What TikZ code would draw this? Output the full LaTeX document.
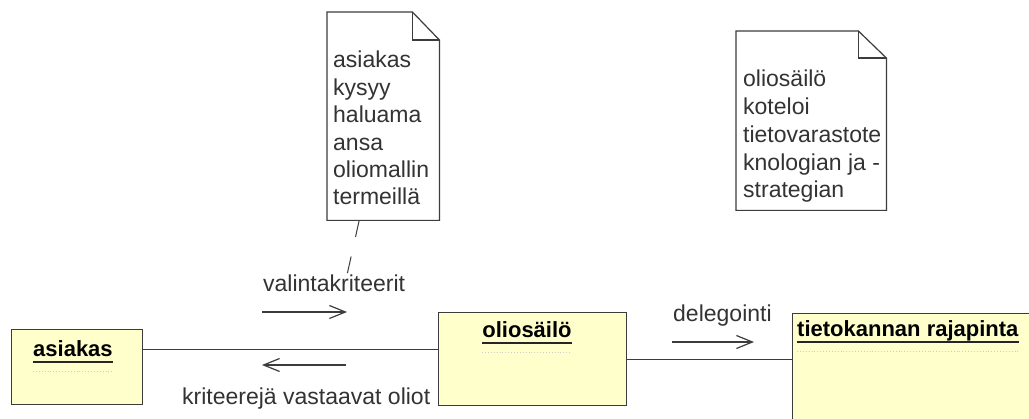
\documentclass[tikz,border=0pt]{standalone}
\usepackage{fontspec}
\setmainfont{Liberation Sans}
\usetikzlibrary{arrows.meta}
\definecolor{boxfill}{RGB}{255,255,204}
\definecolor{ink}{RGB}{51,51,51}
\definecolor{edge}{RGB}{60,60,60}

\begin{document}
\begin{tikzpicture}[x=1pt,y=-1pt,
  objbox/.style={draw=edge, line width=1.4pt, fill=boxfill, rectangle, inner sep=0pt, anchor=north west},
  title/.style={font=\fontsize{22}{27}\selectfont\bfseries, text=black, inner sep=0pt, anchor=base west},
  ul/.style={draw=black!85, line width=1.8pt},
  sep/.style={draw=black!20, line width=0.9pt, dotted},
  lbl/.style={font=\fontsize{23}{27}\selectfont, text=ink, inner sep=0pt, anchor=base west},
  notebody/.style={inner sep=0pt, anchor=north west},
  noteline/.style={draw=edge, line width=1.2pt},
  assoc/.style={draw=edge, line width=1.3pt},
  anchorline/.style={draw=edge, line width=1pt, dash pattern=on 17pt off 20pt},
  msg/.style={draw=edge, line width=1.2pt, -{Straight Barb[length=16pt,width=13pt,line width=1.2pt]}},
]
\useasboundingbox (0,0) rectangle (1029,419);
\fill[white] (0,0) rectangle (1029,419);
\clip (0,0) rectangle (1029,419);

% objects
\node[objbox, minimum width=131pt, minimum height=75pt] (asiakas) at (11,329) {};
\node[objbox, minimum width=188pt, minimum height=93pt] (olio) at (438,312) {};
\node[objbox, minimum width=260pt, minimum height=130pt] (tieto) at (792,313) {};

% object names, underlined
\node[title] (asiakasT) at (33,357) {asiakas};
\node[title, anchor=base] (olioT) at (527,338) {oliosäilö};
\node[title] (tietoT) at (797,337) {tietokannan rajapinta};
\foreach \t in {asiakasT,olioT,tietoT}{
  \draw[ul] ([yshift=-5pt]\t.base west) -- ([yshift=-5pt]\t.base east);
  \draw[sep] ([yshift=-14pt]\t.base west) -- ([yshift=-14pt]\t.base east);
}

% links
\draw[assoc] ([yshift=17.5pt]asiakas.east) -- ([yshift=9.5pt]olio.west);
\draw[assoc] (olio.east) -- (olio.east -| tieto.west);

% messages
\node[lbl] (valL) at (263,292) {valintakriteerit};
\node[lbl] (kritL) at (182,405) {kriteerejä vastaavat oliot};
\node[lbl] (delL) at (673,322) {delegointi};
\coordinate (m1a) at (262,312);
\coordinate (m1b) at (347,312);
\coordinate (m2a) at (346,365);
\coordinate (m2b) at (262,365);
\coordinate (m3a) at (672,342);
\coordinate (m3b) at (754,342);
\draw[msg] (m1a) -- (m1b);
\draw[msg] (m2a) -- (m2b);
\draw[msg] (m3a) -- (m3b);

% notes
\node[notebody, minimum width=112pt, minimum height=208pt] (note1) at (327,12) {};
\draw[noteline, fill=white] (note1.north west) -- ([xshift=-27pt]note1.north east)
  -- ([yshift=-28pt]note1.north east) -- (note1.south east) -- (note1.south west) -- cycle;
\draw[noteline] ([xshift=-27pt]note1.north east) |- ([yshift=-28pt]note1.north east);
\node[lbl] (note1T) at (333,68) {\vtop{\baselineskip=27.4pt
  \hbox{asiakas}\hbox{kysyy}\hbox{haluama}\hbox{ansa}\hbox{oliomallin}\hbox{termeillä}}};

\node[notebody, minimum width=150pt, minimum height=179pt] (note2) at (736,31) {};
\draw[noteline, fill=white] (note2.north west) -- ([xshift=-28pt]note2.north east)
  -- ([yshift=-27pt]note2.north east) -- (note2.south east) -- (note2.south west) -- cycle;
\draw[noteline] ([xshift=-28pt]note2.north east) |- ([yshift=-27pt]note2.north east);
\node[lbl] (note2T) at (743,87) {\vtop{\baselineskip=27.75pt
  \hbox{oliosäilö}\hbox{koteloi}\hbox{tietovarastote}\hbox{knologian ja -}\hbox{strategian}}};

% note anchor
\coordinate (noteEnd) at (347,275);
\draw[anchorline] ([xshift=-24pt]note1.south) -- (noteEnd);
\end{tikzpicture}
\end{document}
